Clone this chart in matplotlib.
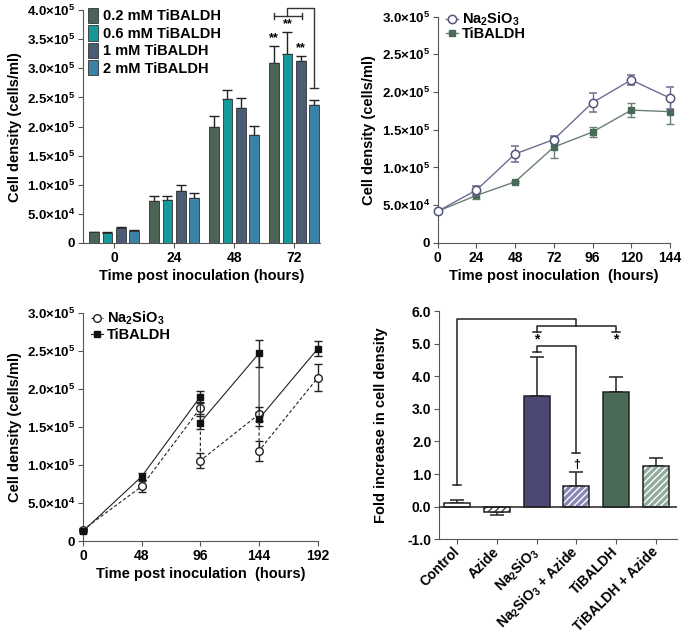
import numpy as np
import matplotlib.pyplot as plt
from matplotlib.patches import Patch
from matplotlib.lines import Line2D

plt.rcParams['font.family'] = 'Liberation Sans'
plt.rcParams['font.weight'] = 'bold'
plt.rcParams['axes.labelweight'] = 'bold'
plt.rcParams['mathtext.fontset'] = 'custom'
plt.rcParams['mathtext.rm'] = 'Liberation Sans:bold'
plt.rcParams['mathtext.bf'] = 'Liberation Sans:bold'
plt.rcParams['mathtext.it'] = 'Liberation Sans:bold'
plt.rcParams['hatch.linewidth'] = 1.0

# ---- panel A: TiBALDH concentrations (bars)
a_times = ['0', '24', '48', '72']
a_labels = ['0.2 mM TiBALDH', '0.6 mM TiBALDH', '1 mM TiBALDH', '2 mM TiBALDH']
a_colors = ['#4b6456', '#16999a', '#4a5d75', '#3a82a6']
a_dens = [[18000, 72000, 200000, 309000],
          [17500, 73000, 247000, 325000],
          [25000, 90000, 232000, 312000],
          [20000, 77000, 185000, 237000]]
a_err = [[1500, 9000, 18000, 30000],
         [1500, 7000, 15000, 37000],
         [3000, 9000, 17000, 10000],
         [2000, 9000, 16000, 8000]]
a_yticks = [0, 50000, 100000, 150000, 200000, 250000, 300000, 350000, 400000]
a_yticklabels = ['0', r'5.0$\times$10$^{4}$', r'1.0$\times$10$^{5}$', r'1.5$\times$10$^{5}$',
                 r'2.0$\times$10$^{5}$', r'2.5$\times$10$^{5}$', r'3.0$\times$10$^{5}$',
                 r'3.5$\times$10$^{5}$', r'4.0$\times$10$^{5}$']

# ---- panel B: Na2SiO3 vs TiBALDH time course
b_time = [0, 24, 48, 72, 96, 120, 144]
b_na = [42000, 70000, 118000, 137000, 186000, 216000, 192000]
b_na_err = [2000, 6000, 11000, 5000, 13000, 7000, 14000]
b_ti = [42000, 63000, 81000, 127000, 147000, 176000, 174000]
b_ti_err = [2000, 5000, 1500, 14000, 6000, 9000, 17000]
b_yticks = [0, 50000, 100000, 150000, 200000, 250000, 300000]
b_yticklabels = ['0', r'5.0$\times$10$^{4}$', r'1.0$\times$10$^{5}$', r'1.5$\times$10$^{5}$',
                 r'2.0$\times$10$^{5}$', r'2.5$\times$10$^{5}$', r'3.0$\times$10$^{5}$']

# ---- panel C: subculture time course
c_time = [0, 48, 96, 96, 144, 144, 192]
c_na = [15000, 72000, 175000, 106000, 167000, 119000, 215000]
c_na_err = [2000, 7000, 8000, 10000, 9000, 13000, 18000]
c_ti = [13000, 85000, 190000, 156000, 247000, 161000, 253000]
c_ti_err = [2000, 5000, 8000, 8000, 18000, 9000, 10000]
c_xticks = [0, 48, 96, 144, 192]

# ---- panel D: fold increase with azide
d_groups = ['Control', 'Azide', 'Na$_2$SiO$_3$', 'Na$_2$SiO$_3$ + Azide', 'TiBALDH', 'TiBALDH + Azide']
d_fold = [0.12, -0.16, 3.38, 0.65, 3.51, 1.26]
d_err = [0.1, 0.08, 1.2, 0.4, 0.48, 0.24]
d_colors = ['white', 'white', '#4b4873', '#8886b6', '#4a6a58', '#8fac9c']
d_hatch = [None, '/////', None, '/////', None, '/////']
d_yticks = [-1, 0, 1, 2, 3, 4, 5, 6]

fig = plt.figure(figsize=(6.85, 6.36), dpi=100)

def style(ax):
    ax.spines['top'].set_visible(False)
    ax.spines['right'].set_visible(False)
    ax.spines['left'].set_color('#555555')
    ax.spines['bottom'].set_color('#555555')
    ax.tick_params(direction='out', length=3.5, color='#555555', labelsize=9.5, pad=2)

# ===== A
ax1 = fig.add_axes([0.121, 0.618, 0.346, 0.366])
style(ax1)
x = np.arange(len(a_times))
pitch = 0.22
for i in range(4):
    xs = x + (i - 1.5) * pitch
    ax1.bar(xs, a_dens[i], width=0.165, color=a_colors[i], edgecolor='#333333', linewidth=0.6,
            label=a_labels[i], zorder=2)
    ax1.errorbar(xs, a_dens[i], yerr=[np.zeros(4), a_err[i]], fmt='none', ecolor='#222222',
                 elinewidth=1, capsize=3.5, capthick=1, zorder=1)
ax1.set_xlim(-0.52, 3.43)
ax1.set_ylim(0, 400000)
ax1.set_xticks(x)
ax1.set_xticklabels(a_times, fontsize=10)
ax1.set_yticks(a_yticks)
ax1.set_yticklabels(a_yticklabels)
ax1.set_xlabel('Time post inoculation (hours)', fontsize=10.5, labelpad=3)
ax1.set_ylabel('Cell density (cells/ml)', fontsize=10.5, labelpad=4)
ax1.legend(loc='upper left', bbox_to_anchor=(-0.005, 1.035), frameon=False, fontsize=10.5,
           handlelength=0.7, handleheight=1.25, handletextpad=0.35, labelspacing=0.12,
           borderaxespad=0)
# significance marks
x72 = 3 + (np.arange(4) - 1.5) * pitch
for i in range(3):
    ax1.text(x72[i], a_dens[i][3] + a_err[i][3] + 3000, '**', ha='center', va='bottom', fontsize=9)
bk = dict(color='#333333', lw=1, clip_on=False)
ax1.plot([x72[0], x72[2] + 0.03], [390000, 390000], **bk)
ax1.plot([x72[0], x72[0]], [384000, 396000], **bk)
ax1.plot([x72[2] + 0.03, x72[2] + 0.03], [384000, 396000], **bk)
ax1.plot([x72[1], x72[1], x72[3], x72[3]], [390000, 403000, 403000, 266000], **bk)
ax1.plot([x72[3] - 0.07, x72[3] + 0.07], [266000, 266000], **bk)

# ===== B
ax2 = fig.add_axes([0.639, 0.618, 0.339, 0.356])
style(ax2)
ax2.errorbar(b_time, b_na, yerr=b_na_err, color='#6e6d8f', mec='#55547e', mfc='white', marker='o',
             ms=6, mew=1.1, lw=1, elinewidth=1, capsize=3, capthick=1, label='Na$_2$SiO$_3$',
             clip_on=False, zorder=3)
ax2.errorbar(b_time, b_ti, yerr=b_ti_err, color='#6a7f73', mec='#4a6a58', mfc='#4a6a58', marker='s',
             ms=5, lw=1, elinewidth=1, capsize=3, capthick=1, label='TiBALDH', clip_on=False, zorder=2)
ax2.set_xlim(0, 144)
ax2.set_ylim(0, 300000)
ax2.set_xticks(b_time)
ax2.set_xticklabels([str(t) for t in b_time], fontsize=10)
ax2.set_yticks(b_yticks)
ax2.set_yticklabels(b_yticklabels)
ax2.set_xlabel('Time post inoculation  (hours)', fontsize=10.5, labelpad=3)
ax2.set_ylabel('Cell density (cells/ml)', fontsize=10.5, labelpad=4)
h, l = ax2.get_legend_handles_labels()
ax2.legend([hh[0] for hh in h], l, loc='upper left', bbox_to_anchor=(0.01, 1.05), frameon=False,
           fontsize=10.5, handlelength=0.8, handletextpad=0.3, labelspacing=-0.1, borderaxespad=0)

# ===== C
ax3 = fig.add_axes([0.121, 0.149, 0.343, 0.359])
style(ax3)
ax3.plot(c_time, c_na, color='#222222', ls=(0, (3, 2)), lw=0.8, marker='o', mfc='white', mec='#222222',
         ms=5.5, mew=1, clip_on=False, label='Na$_2$SiO$_3$', zorder=3)
ax3.errorbar(c_time, c_na, yerr=c_na_err, fmt='none', ecolor='#222222', elinewidth=1, capsize=3,
             capthick=1, clip_on=False)
ax3.plot(c_time, c_ti, color='#222222', ls='-', lw=0.8, marker='s', mfc='#111111', mec='#111111',
         ms=5, clip_on=False, label='TiBALDH', zorder=3)
ax3.errorbar(c_time, c_ti, yerr=c_ti_err, fmt='none', ecolor='#222222', elinewidth=1, capsize=3,
             capthick=1, clip_on=False)
ax3.set_xlim(0, 192)
ax3.set_ylim(0, 300000)
ax3.set_xticks(c_xticks)
ax3.set_xticklabels([str(t) for t in c_xticks], fontsize=10)
ax3.set_yticks(b_yticks)
ax3.set_yticklabels(b_yticklabels)
ax3.set_xlabel('Time post inoculation  (hours)', fontsize=10.5, labelpad=3)
ax3.set_ylabel('Cell density (cells/ml)', fontsize=10.5, labelpad=4)
ax3.legend(loc='upper left', bbox_to_anchor=(0.01, 1.04), frameon=False, fontsize=10.5,
           handlelength=0.8, handletextpad=0.3, labelspacing=0.1, borderaxespad=0)

# ===== D
ax4 = fig.add_axes([0.641, 0.152, 0.347, 0.359])
style(ax4)
xd = np.arange(len(d_groups))
for i in range(len(d_groups)):
    if d_hatch[i] is None:
        ax4.bar(xd[i], d_fold[i], width=0.66, color=d_colors[i], edgecolor='#222222', linewidth=1.1,
                zorder=2)
    else:
        hc = '#444444' if d_colors[i] == 'white' else 'white'
        ax4.bar(xd[i], d_fold[i], width=0.66, color=d_colors[i], edgecolor=hc, hatch=d_hatch[i],
                linewidth=0, zorder=2)
        ax4.bar(xd[i], d_fold[i], width=0.66, fill=False, edgecolor='#222222', linewidth=1.1, zorder=3)
    sgn = 1 if d_fold[i] >= 0 else -1
    ax4.errorbar(xd[i], d_fold[i], yerr=[[0 if sgn > 0 else d_err[i]], [d_err[i] if sgn > 0 else 0]],
                 fmt='none', ecolor='#222222', elinewidth=1.1, capsize=5, capthick=1.1, zorder=1)
ax4.axhline(0, color='#222222', lw=1.1, zorder=4)
ax4.set_xlim(-0.46, 5.53)
ax4.set_ylim(-1, 6)
ax4.set_yticks(d_yticks)
ax4.set_yticklabels(['%.1f' % v for v in d_yticks], fontsize=10)
ax4.set_xticks(xd)
ax4.set_xticklabels(d_groups, rotation=45, ha='right', va='center', rotation_mode='anchor', fontsize=10)
ax4.tick_params(axis='x', pad=4)
ax4.set_ylabel('Fold increase in cell density', fontsize=10.5, labelpad=14)
bk = dict(color='#222222', lw=1.1, clip_on=False)
ax4.plot([-0.1, 0.1], [0.66, 0.66], **bk)
ax4.plot([0, 0, 3, 3], [0.66, 5.75, 5.75, 5.55], **bk)
ax4.plot([2, 2, 4, 4], [5.35, 5.55, 5.55, 5.35], **bk)
ax4.plot([1.9, 2.1], [5.35, 5.35], **bk)
ax4.plot([3.9, 4.1], [5.35, 5.35], **bk)
ax4.text(2, 5.33, '*', ha='center', va='top', fontsize=10)
ax4.text(4, 5.33, '*', ha='center', va='top', fontsize=10)
ax4.plot([1.9, 2.1], [4.75, 4.75], **bk)
ax4.plot([2, 2, 3, 3], [4.75, 4.94, 4.94, 1.66], **bk)
ax4.plot([2.9, 3.1], [1.66, 1.66], **bk)
ax4.text(3, 1.1, '\u2020', ha='center', va='bottom', fontsize=9)

fig.savefig('out.png', dpi=100)
